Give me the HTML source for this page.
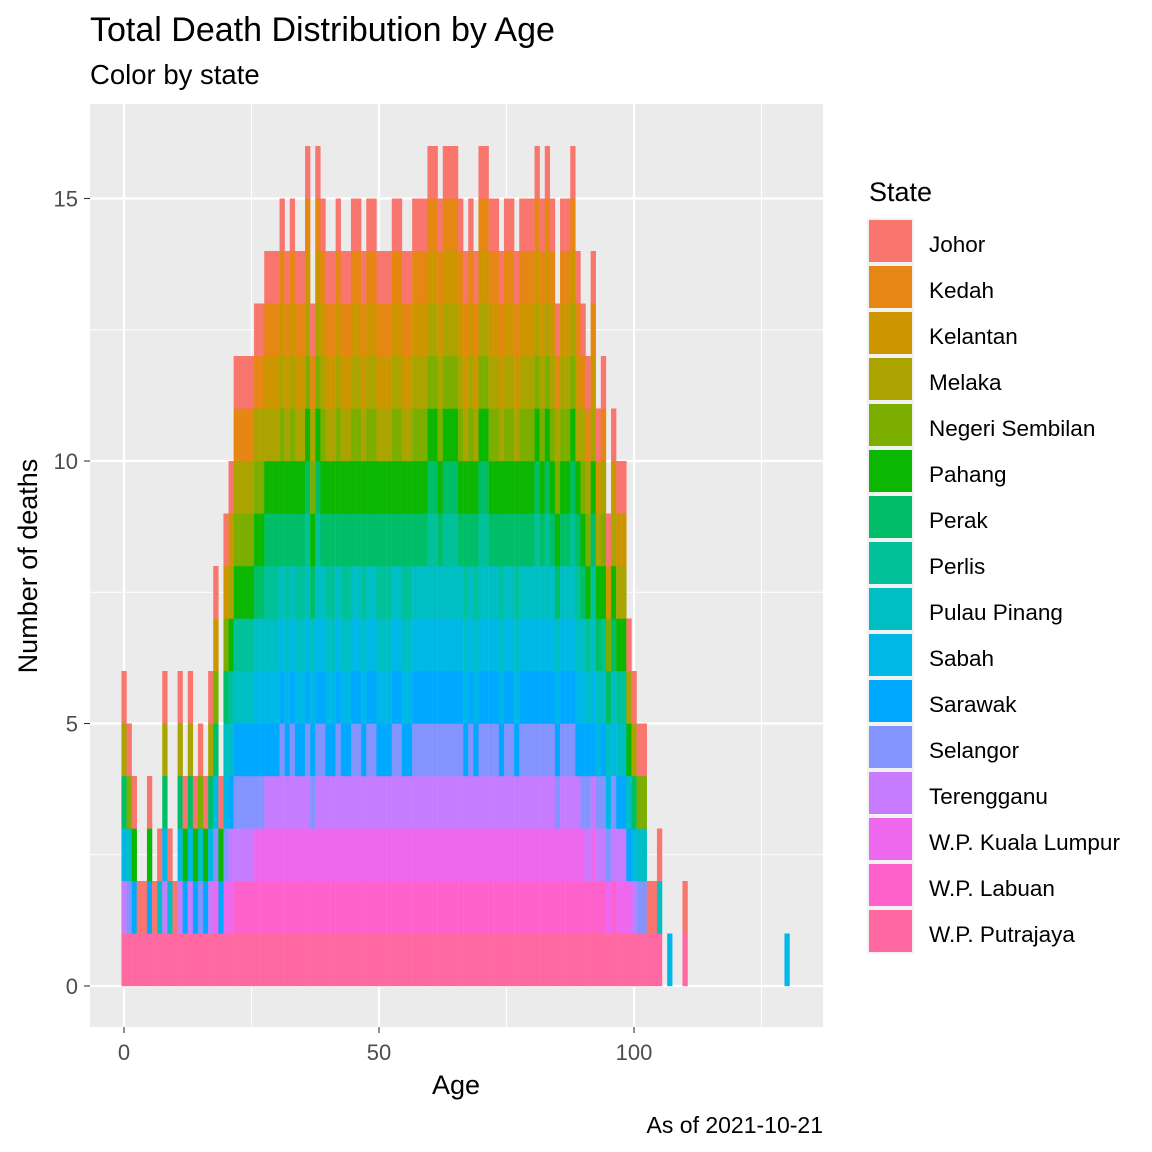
<!DOCTYPE html>
<html><head><meta charset="utf-8">
<style>
html,body{margin:0;padding:0;background:#fff;width:1152px;height:1152px;overflow:hidden}
svg text{font-family:"Liberation Sans",Arial,sans-serif}
</style></head>
<body>
<svg id="chart" width="1152" height="1152" viewBox="0 0 1152 1152" xmlns="http://www.w3.org/2000/svg">
<text x="90" y="41" font-size="34" fill="#000">Total Death Distribution by Age</text>
<text x="90" y="84" font-size="27.5" fill="#000">Color by state</text>
<rect x="90" y="104" width="733" height="923" fill="#ebebeb"/>
<g id="grid"></g>
<g id="bars"></g>
<g id="axes"></g>
<text x="456" y="1094" font-size="27" text-anchor="middle" fill="#000">Age</text>
<text transform="translate(37,566) rotate(-90)" font-size="27" text-anchor="middle" fill="#000">Number of deaths</text>
<text x="823" y="1133" font-size="23" text-anchor="end" fill="#000">As of 2021-10-21</text>
<text x="869" y="201" font-size="27" fill="#000">State</text>
<g id="legend"></g>
</svg>
<script>
const states = ["Johor","Kedah","Kelantan","Melaka","Negeri Sembilan","Pahang","Perak","Perlis","Pulau Pinang","Sabah","Sarawak","Selangor","Terengganu","W.P. Kuala Lumpur","W.P. Labuan","W.P. Putrajaya"];
const stateColors = ["#F8766D","#E68613","#CD9600","#ABA300","#7CAE00","#0CB702","#00BE67","#00C19A","#00BFC4","#00B8E7","#00A9FF","#8494FF","#C77CFF","#ED68ED","#FF61CC","#FF68A1"];
const ages = [];
for (let a = 0; a <= 110; a++) ages.push(a);
ages.push(130);
const deaths = [6,5,4,2,2,4,2,3,6,3,2,6,4,6,4,5,4,6,8,4,9,10,12,12,12,12,13,13,14,14,14,15,14,15,14,14,16,13,16,15,14,14,15,14,14,15,15,14,15,15,14,14,14,15,15,14,14,15,15,15,16,16,15,16,16,16,15,14,15,14,16,16,15,15,14,15,15,14,15,15,15,16,15,16,15,13,15,15,16,14,13,12,14,11,12,9,11,10,10,7,6,5,5,2,2,3,0,1,0,0,2,1];
const xTicks = [0,50,100];
const yTicks = [0,5,10,15];

const NS = "http://www.w3.org/2000/svg";
const X0 = 124, XS = 5.1, Y0 = 986, YS = 52.5;
const xPos = v => X0 + v * XS;
const yPos = v => Y0 - v * YS;
function mk(tag, attrs, parent) {
  const e = document.createElementNS(NS, tag);
  for (const k in attrs) e.setAttribute(k, attrs[k]);
  parent.appendChild(e);
  return e;
}
const grid = document.getElementById('grid');
[25,75,125].forEach(v => {
  const l = mk('line', {x1: xPos(v), x2: xPos(v), y1: 104, y2: 1027, stroke: '#fff', 'stroke-width': 1.1}, grid);
  
  
});
[2.5,7.5,12.5].forEach(v => {
  const l = mk('line', {x1: 90, x2: 823, y1: yPos(v), y2: yPos(v), stroke: '#fff', 'stroke-width': 1.1}, grid);
  
  
});
xTicks.forEach(v => {
  const l = mk('line', {x1: xPos(v), x2: xPos(v), y1: 104, y2: 1027, stroke: '#fff', 'stroke-width': 2.2}, grid);
  
  
});
yTicks.forEach(v => {
  const l = mk('line', {x1: 90, x2: 823, y1: yPos(v), y2: yPos(v), stroke: '#fff', 'stroke-width': 2.2}, grid);
  
  
});
const bars = document.getElementById('bars');
ages.forEach((a, i) => {
  const n = deaths[i];
  for (let j = 0; j < n; j++) {
    let s = n === 1 ? 9 : Math.round(15 - j * 15 / (n - 1));
    const r = mk('rect', {x: xPos(a - 0.5), y: yPos(j + 1), width: XS + 0.2, height: YS + 0.2, fill: stateColors[s]}, bars);
    
    
  }
});
const axes = document.getElementById('axes');
xTicks.forEach(v => {
  const t = mk('line', {x1: xPos(v), x2: xPos(v), y1: 1027, y2: 1033, stroke: '#333', 'stroke-width': 1.1}, axes);
  
  
  const l = mk('text', {x: xPos(v), y: 1060, 'font-size': 22, 'text-anchor': 'middle', fill: '#4d4d4d'}, axes);
  l.textContent = v;
  
  
});
yTicks.forEach(v => {
  const t = mk('line', {x1: 84, x2: 90, y1: yPos(v), y2: yPos(v), stroke: '#333', 'stroke-width': 1.1}, axes);
  
  
  const l = mk('text', {x: 78, y: yPos(v) + 8, 'font-size': 22, 'text-anchor': 'end', fill: '#4d4d4d'}, axes);
  l.textContent = v;
  
  
});
const legend = document.getElementById('legend');
states.forEach((s, i) => {
  const y = 219 + i * 46;
  const bg = mk('rect', {x: 867, y: y - 1, width: 47, height: 46, fill: '#f2f2f2'}, legend);
  
  
  const k = mk('rect', {x: 869, y: y + 1, width: 43, height: 42, fill: stateColors[i]}, legend);
  
  
  const t = mk('text', {x: 929, y: y + 33, 'font-size': 22.5, fill: '#000'}, legend);
  t.textContent = s;
  
  
});
</script>
</body></html>
